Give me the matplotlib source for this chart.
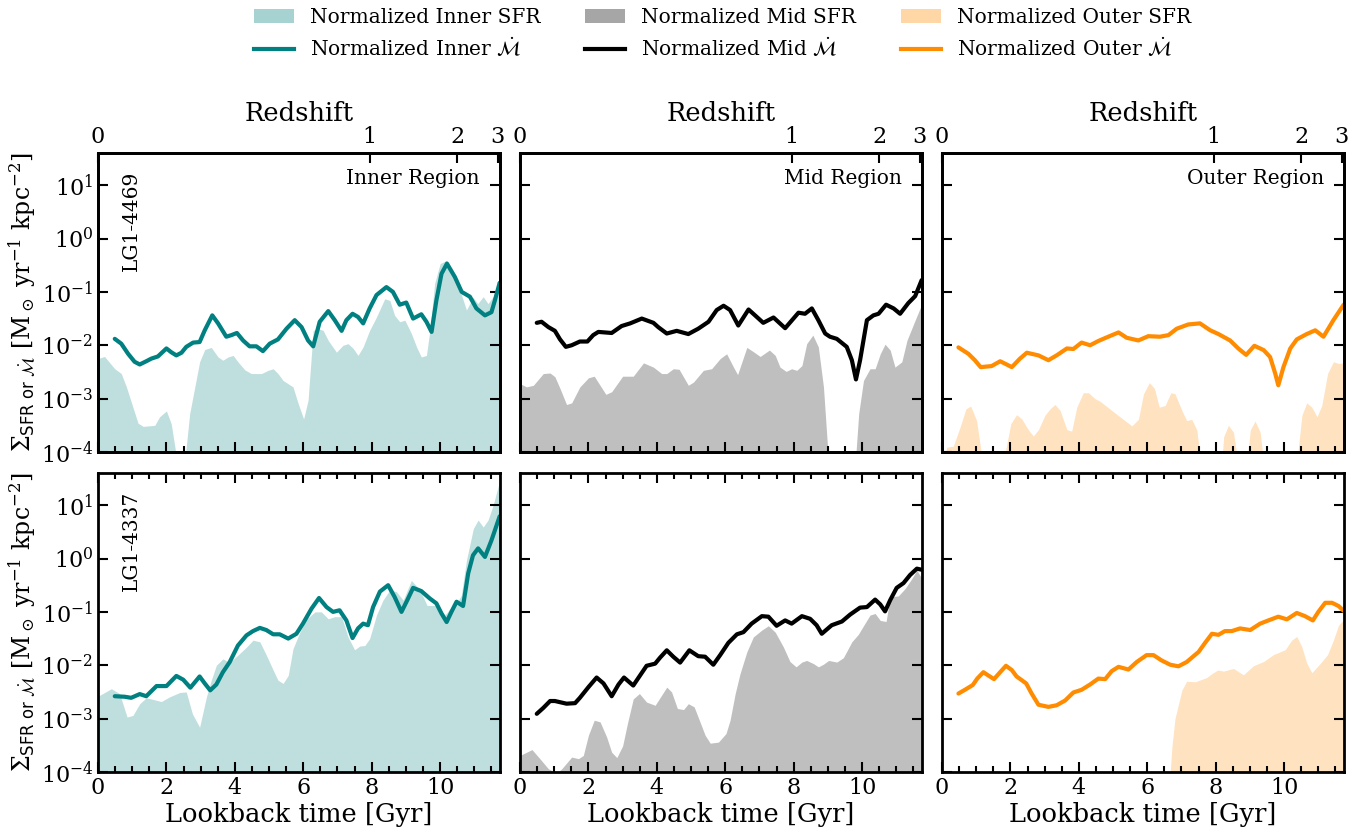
import numpy as np
import matplotlib
matplotlib.use("Agg")
import matplotlib.pyplot as plt
from matplotlib.patches import Patch
from matplotlib.lines import Line2D
from matplotlib.ticker import MultipleLocator, NullLocator, FixedLocator

plt.rcParams['font.family'] = ['DejaVu Serif']
plt.rcParams['mathtext.fontset'] = 'dejavuserif'

# ---------------- data (log10 values) ----------------
galaxies = ['LG1-4469', 'LG1-4337']
regions = ['Inner', 'Mid', 'Outer']
redshift_labels = ['0', '1', '2', '3']
redshift_tick_times = [0.0, 7.94, 10.50, 11.68]

# Top row: LG1-4469
g1_inner_sfr_t = [0, 0.19, 0.49, 0.68, 0.83, 1.02, 1.17, 1.32, 1.66, 1.8, 2.0, 2.14, 2.32, 2.53, 2.68, 2.83, 2.97, 3.12, 3.31, 3.51, 3.65, 3.8, 3.95, 4.09, 4.29, 4.48, 4.78, 4.97, 5.12, 5.26, 5.41, 5.7, 5.85, 6.01, 6.14, 6.29, 6.43, 6.58, 6.73, 6.97, 7.16, 7.31, 7.46, 7.6, 7.75, 7.94, 8.14, 8.38, 8.53, 8.67, 8.82, 8.97, 9.16, 9.31, 9.45, 9.6, 9.7, 9.84, 10.0, 10.19, 10.39, 10.58, 10.77, 10.96, 11.1, 11.26, 11.4, 11.55, 11.75]
g1_inner_sfr_y = [-2.25, -2.21, -2.44, -2.53, -2.78, -3.16, -3.46, -3.52, -3.5, -3.34, -3.23, -3.47, -4.2, -4.2, -3.28, -2.78, -2.31, -2.08, -2.04, -2.22, -2.28, -2.22, -2.19, -2.31, -2.46, -2.53, -2.53, -2.47, -2.44, -2.53, -2.66, -2.78, -3.09, -3.38, -3.03, -1.72, -1.69, -1.72, -1.91, -2.13, -2.0, -1.97, -2.06, -2.19, -2.03, -1.72, -1.47, -1.13, -1.16, -1.44, -1.56, -1.53, -1.78, -2.03, -2.22, -2.19, -1.72, -0.84, -0.47, -0.41, -0.66, -0.97, -1.34, -1.1, -1.22, -1.09, -1.22, -1.09, -1.0]
g1_inner_mdot_t = [0.49, 0.68, 0.88, 1.07, 1.22, 1.41, 1.56, 1.75, 2.0, 2.14, 2.29, 2.44, 2.58, 2.78, 2.97, 3.12, 3.34, 3.51, 3.75, 3.9, 4.06, 4.24, 4.43, 4.63, 4.82, 5.02, 5.26, 5.51, 5.75, 5.95, 6.14, 6.29, 6.48, 6.73, 6.92, 7.12, 7.26, 7.44, 7.6, 7.75, 7.94, 8.14, 8.43, 8.62, 8.82, 9.01, 9.21, 9.45, 9.6, 9.75, 9.89, 10.04, 10.2, 10.43, 10.63, 10.87, 11.06, 11.31, 11.5, 11.6, 11.74]
g1_inner_mdot_y = [-1.88, -1.97, -2.16, -2.31, -2.36, -2.3, -2.25, -2.21, -2.06, -2.13, -2.19, -2.14, -2.03, -1.95, -1.94, -1.72, -1.44, -1.59, -1.84, -1.81, -1.77, -1.91, -2.02, -2.02, -2.11, -1.97, -1.89, -1.69, -1.53, -1.66, -1.91, -2.02, -1.56, -1.36, -1.53, -1.73, -1.53, -1.41, -1.47, -1.59, -1.31, -1.06, -0.91, -1.0, -1.24, -1.2, -1.5, -1.42, -1.56, -1.75, -1.16, -0.66, -0.47, -0.72, -1.0, -1.09, -1.31, -1.44, -1.38, -1.16, -0.83]

g1_mid_sfr_t = [0.0, 0.19, 0.39, 0.68, 0.88, 1.02, 1.17, 1.36, 1.51, 1.75, 2.0, 2.17, 2.34, 2.51, 2.68, 3.0, 3.31, 3.61, 3.9, 4.14, 4.29, 4.48, 4.65, 4.92, 5.07, 5.36, 5.6, 5.85, 6.04, 6.24, 6.36, 6.63, 6.82, 7.02, 7.29, 7.46, 7.6, 7.78, 7.94, 8.09, 8.24, 8.38, 8.56, 8.72, 8.87, 9.02, 9.8, 9.9, 10.04, 10.23, 10.38, 10.53, 10.67, 10.82, 10.96, 11.16, 11.31, 11.55, 11.75]
g1_mid_sfr_y = [-2.72, -2.78, -2.75, -2.53, -2.52, -2.59, -2.81, -3.11, -3.08, -2.78, -2.61, -2.58, -2.75, -2.92, -2.87, -2.58, -2.58, -2.33, -2.41, -2.53, -2.53, -2.44, -2.45, -2.75, -2.69, -2.47, -2.44, -2.25, -2.16, -2.41, -2.55, -2.04, -2.12, -2.21, -2.09, -2.19, -2.41, -2.49, -2.44, -2.47, -2.38, -1.97, -1.81, -2.03, -2.78, -4.2, -4.2, -3.28, -2.66, -2.44, -2.44, -2.16, -1.98, -2.09, -2.41, -2.31, -1.91, -1.53, -1.22]
g1_mid_mdot_t = [0.49, 0.63, 0.83, 1.02, 1.17, 1.34, 1.51, 1.75, 1.97, 2.14, 2.29, 2.68, 2.97, 3.22, 3.56, 3.9, 4.04, 4.29, 4.58, 4.92, 5.21, 5.51, 5.75, 5.95, 6.14, 6.38, 6.68, 6.87, 7.11, 7.41, 7.75, 8.14, 8.33, 8.53, 8.72, 8.92, 9.06, 9.26, 9.55, 9.7, 9.82, 9.94, 10.14, 10.33, 10.48, 10.7, 10.92, 11.11, 11.35, 11.55, 11.74]
g1_mid_mdot_y = [-1.58, -1.56, -1.66, -1.73, -1.89, -2.03, -2.0, -1.93, -1.93, -1.81, -1.75, -1.77, -1.64, -1.59, -1.5, -1.58, -1.66, -1.78, -1.73, -1.79, -1.69, -1.56, -1.34, -1.26, -1.34, -1.63, -1.33, -1.44, -1.58, -1.48, -1.68, -1.39, -1.41, -1.31, -1.53, -1.78, -1.84, -1.88, -2.03, -2.28, -2.64, -2.28, -1.53, -1.44, -1.41, -1.24, -1.31, -1.41, -1.21, -1.08, -0.78]

g1_outer_sfr_t = [0.04, 0.14, 0.33, 0.53, 0.7, 0.84, 1.01, 1.19, 1.79, 2.01, 2.18, 2.33, 2.53, 2.67, 2.82, 3.01, 3.16, 3.3, 3.45, 3.65, 3.79, 3.94, 4.13, 4.28, 4.47, 4.62, 5.2, 5.55, 5.74, 5.89, 6.06, 6.21, 6.35, 6.52, 6.69, 6.81, 7.01, 7.15, 7.3, 7.45, 7.56, 8.18, 8.23, 8.37, 8.52, 8.65, 8.91, 9.01, 9.15, 9.3, 9.4, 10.37, 10.52, 10.66, 10.81, 10.96, 11.1, 11.27, 11.44, 11.59, 11.75]
g1_outer_sfr_y = [-4.2, -3.91, -3.89, -3.53, -3.19, -3.14, -3.41, -4.2, -4.2, -3.47, -3.3, -3.38, -3.59, -3.7, -3.58, -3.31, -3.19, -3.11, -3.22, -3.58, -3.61, -3.16, -2.89, -2.89, -3.0, -3.05, -3.34, -3.51, -3.39, -2.91, -2.7, -2.81, -3.16, -3.13, -2.89, -2.91, -3.22, -3.41, -3.39, -3.59, -4.2, -4.2, -3.72, -3.5, -3.63, -4.2, -4.2, -3.59, -3.42, -3.63, -4.2, -4.2, -3.31, -3.08, -3.16, -3.34, -3.13, -2.53, -2.31, -2.34, -2.33]
g1_outer_mdot_t = [0.48, 0.77, 0.96, 1.13, 1.45, 1.7, 1.89, 2.04, 2.28, 2.48, 2.82, 3.11, 3.35, 3.65, 3.84, 4.08, 4.33, 4.57, 4.86, 5.16, 5.4, 5.74, 6.03, 6.37, 6.62, 6.86, 7.2, 7.54, 7.84, 8.08, 8.42, 8.66, 8.89, 9.13, 9.4, 9.59, 9.74, 9.83, 9.98, 10.18, 10.37, 10.66, 10.91, 11.15, 11.44, 11.74]
g1_outer_mdot_y = [-2.04, -2.16, -2.28, -2.41, -2.39, -2.3, -2.36, -2.41, -2.25, -2.14, -2.19, -2.28, -2.19, -2.06, -2.07, -1.95, -2.0, -1.92, -1.84, -1.76, -1.86, -1.91, -1.83, -1.84, -1.81, -1.69, -1.61, -1.59, -1.72, -1.79, -1.91, -2.06, -2.18, -2.01, -2.09, -2.22, -2.53, -2.75, -2.41, -2.06, -1.89, -1.79, -1.72, -1.84, -1.53, -1.24]

# Bottom row: LG1-4337
g2_inner_sfr_t = [0.0, 0.39, 0.63, 0.85, 1.02, 1.22, 1.41, 1.61, 1.85, 2.1, 2.39, 2.58, 2.76, 2.97, 3.17, 3.31, 3.46, 3.65, 3.85, 4.09, 4.34, 4.53, 4.73, 4.92, 5.12, 5.26, 5.41, 5.56, 5.7, 5.9, 6.09, 6.34, 6.53, 6.73, 6.92, 7.12, 7.31, 7.5, 7.65, 7.8, 7.94, 8.14, 8.33, 8.53, 8.72, 8.92, 9.16, 9.41, 9.62, 9.89, 10.14, 10.33, 10.48, 10.62, 10.77, 10.97, 11.11, 11.26, 11.4, 11.55, 11.75]
g2_inner_sfr_y = [-2.58, -2.44, -2.53, -2.97, -2.94, -2.72, -2.61, -2.64, -2.68, -2.59, -2.51, -2.5, -2.91, -3.16, -2.59, -2.28, -2.0, -1.88, -1.95, -1.81, -1.66, -1.53, -1.56, -1.81, -2.09, -2.28, -2.34, -2.19, -1.69, -1.38, -1.14, -1.0, -1.0, -1.13, -1.09, -1.09, -1.47, -1.71, -1.64, -1.63, -1.5, -1.06, -0.78, -0.59, -0.62, -0.78, -0.41, -0.59, -0.88, -0.88, -1.06, -0.91, -0.84, -0.69, -0.03, 0.56, 0.72, 0.59, 0.72, 1.0, 1.48]
g2_inner_mdot_t = [0.49, 0.78, 0.97, 1.22, 1.41, 1.71, 2.0, 2.29, 2.49, 2.7, 2.97, 3.12, 3.28, 3.46, 3.65, 3.85, 4.09, 4.34, 4.53, 4.73, 4.92, 5.12, 5.31, 5.56, 5.8, 5.99, 6.24, 6.46, 6.68, 6.87, 7.06, 7.26, 7.44, 7.6, 7.75, 7.89, 8.04, 8.24, 8.48, 8.67, 8.87, 9.04, 9.21, 9.45, 9.7, 9.89, 10.04, 10.19, 10.33, 10.48, 10.67, 10.82, 10.96, 11.11, 11.31, 11.5, 11.74]
g2_inner_mdot_y = [-2.58, -2.59, -2.61, -2.54, -2.58, -2.39, -2.39, -2.2, -2.27, -2.42, -2.21, -2.34, -2.47, -2.36, -2.13, -1.94, -1.63, -1.44, -1.36, -1.3, -1.34, -1.42, -1.42, -1.5, -1.41, -1.22, -0.94, -0.74, -0.91, -1.0, -0.97, -1.16, -1.49, -1.31, -1.22, -1.25, -0.91, -0.62, -0.5, -0.72, -1.0, -0.78, -0.55, -0.61, -0.75, -0.84, -1.03, -1.19, -1.0, -0.81, -0.89, -0.28, 0.06, 0.19, 0.03, 0.34, 0.79]

g2_mid_sfr_t = [0.0, 0.35, 0.58, 0.83, 1.07, 1.22, 1.51, 1.71, 1.85, 2.0, 2.17, 2.34, 2.53, 2.68, 2.83, 3.0, 3.14, 3.31, 3.49, 3.7, 3.95, 4.29, 4.43, 4.6, 4.78, 4.92, 5.09, 5.26, 5.41, 5.56, 5.8, 6.02, 6.14, 6.29, 6.43, 6.63, 6.82, 7.07, 7.26, 7.46, 7.7, 7.89, 8.07, 8.24, 8.38, 8.58, 8.72, 8.87, 9.02, 9.26, 9.45, 9.7, 9.89, 10.04, 10.23, 10.38, 10.53, 10.7, 10.82, 11.06, 11.26, 11.45, 11.6, 11.75]
g2_mid_sfr_y = [-3.69, -3.58, -3.75, -3.94, -4.02, -3.94, -3.72, -3.75, -3.69, -3.31, -3.03, -3.06, -3.34, -3.63, -3.73, -3.51, -3.09, -2.63, -2.53, -2.69, -2.75, -2.41, -2.5, -2.81, -2.83, -2.72, -2.78, -3.06, -3.31, -3.46, -3.44, -3.28, -3.03, -2.53, -2.16, -1.75, -1.47, -1.34, -1.26, -1.38, -1.66, -1.93, -2.03, -1.94, -1.91, -1.97, -2.03, -1.98, -1.91, -1.94, -1.86, -1.56, -1.42, -1.26, -1.06, -1.03, -1.16, -1.18, -0.72, -0.7, -0.56, -0.38, -0.22, -0.38]
g2_mid_mdot_t = [0.49, 0.68, 0.88, 1.02, 1.36, 1.61, 1.75, 2.0, 2.24, 2.44, 2.68, 2.88, 3.04, 3.31, 3.51, 3.7, 3.95, 4.09, 4.29, 4.48, 4.68, 4.95, 5.21, 5.41, 5.65, 5.85, 6.09, 6.34, 6.53, 6.77, 7.07, 7.26, 7.5, 7.75, 7.94, 8.24, 8.48, 8.67, 8.82, 9.11, 9.41, 9.65, 9.94, 10.14, 10.38, 10.53, 10.67, 10.82, 11.01, 11.21, 11.4, 11.6, 11.74]
g2_mid_mdot_y = [-2.91, -2.8, -2.67, -2.67, -2.72, -2.71, -2.61, -2.41, -2.23, -2.34, -2.58, -2.36, -2.23, -2.38, -2.19, -2.01, -1.97, -1.86, -1.72, -1.84, -1.95, -1.72, -1.83, -1.84, -1.99, -1.81, -1.58, -1.42, -1.38, -1.22, -1.08, -1.09, -1.26, -1.16, -1.22, -1.08, -1.13, -1.25, -1.41, -1.25, -1.18, -1.05, -0.92, -0.91, -0.77, -0.86, -0.99, -0.78, -0.55, -0.46, -0.31, -0.19, -0.21]

g2_outer_sfr_t = [6.65, 6.72, 6.81, 7.01, 7.15, 7.4, 7.74, 7.88, 8.06, 8.23, 8.52, 8.81, 9.1, 9.4, 9.69, 10.03, 10.22, 10.37, 10.52, 10.66, 10.81, 11.05, 11.27, 11.44, 11.59, 11.75]
g2_outer_sfr_y = [-4.2, -3.53, -3.0, -2.47, -2.3, -2.31, -2.23, -2.16, -2.09, -2.11, -2.06, -2.18, -2.01, -1.93, -1.8, -1.71, -1.53, -1.46, -1.66, -1.96, -2.14, -1.97, -1.8, -1.53, -1.25, -1.14]
g2_outer_mdot_t = [0.48, 0.67, 0.9, 1.03, 1.21, 1.35, 1.52, 1.7, 1.87, 2.04, 2.18, 2.46, 2.62, 2.82, 3.11, 3.35, 3.6, 3.84, 4.08, 4.33, 4.57, 4.77, 4.96, 5.16, 5.45, 5.69, 5.98, 6.18, 6.42, 6.67, 6.91, 7.15, 7.5, 7.69, 7.89, 8.08, 8.27, 8.47, 8.71, 9.01, 9.3, 9.54, 9.83, 10.08, 10.37, 10.61, 10.84, 11.0, 11.2, 11.4, 11.59, 11.74]
g2_outer_mdot_y = [-2.53, -2.46, -2.37, -2.25, -2.13, -2.19, -2.26, -2.13, -2.01, -2.09, -2.21, -2.34, -2.53, -2.74, -2.78, -2.75, -2.66, -2.51, -2.46, -2.36, -2.25, -2.26, -2.11, -2.03, -2.08, -1.94, -1.81, -1.81, -1.91, -1.99, -2.02, -1.94, -1.75, -1.58, -1.41, -1.43, -1.36, -1.36, -1.31, -1.34, -1.22, -1.16, -1.09, -1.14, -1.02, -1.08, -1.16, -1.0, -0.83, -0.83, -0.89, -0.98]

sfr_data = [
    [(g1_inner_sfr_t, g1_inner_sfr_y), (g1_mid_sfr_t, g1_mid_sfr_y), (g1_outer_sfr_t, g1_outer_sfr_y)],
    [(g2_inner_sfr_t, g2_inner_sfr_y), (g2_mid_sfr_t, g2_mid_sfr_y), (g2_outer_sfr_t, g2_outer_sfr_y)],
]
mdot_data = [
    [(g1_inner_mdot_t, g1_inner_mdot_y), (g1_mid_mdot_t, g1_mid_mdot_y), (g1_outer_mdot_t, g1_outer_mdot_y)],
    [(g2_inner_mdot_t, g2_inner_mdot_y), (g2_mid_mdot_t, g2_mid_mdot_y), (g2_outer_mdot_t, g2_outer_mdot_y)],
]
colors = ['teal', 'black', 'darkorange']

# ---------------- figure ----------------
W, H = 1371, 838
fig = plt.figure(figsize=(W / 100, H / 100), dpi=100)
col_left = [98, 520, 942]
col_w = 402
row_top = [153, 473]
row_h = 299

XMAX = 11.75
YMIN, YMAX = 1e-4, 40

axes = []
for r in range(2):
    row_axes = []
    for c in range(3):
        ax = fig.add_axes([col_left[c] / W, 1 - (row_top[r] + row_h) / H, col_w / W, row_h / H])
        st, sy = sfr_data[r][c]
        st = np.asarray(st); sv = 10 ** np.asarray(sy)
        ax.fill_between(st, YMIN * 1e-3, sv, color=colors[c], alpha=0.25, lw=0)
        mt, my = mdot_data[r][c]
        ax.plot(mt, 10 ** np.asarray(my), color=colors[c], lw=3, solid_joinstyle='round', solid_capstyle='round')
        ax.set_yscale('log')
        ax.set_xlim(0, XMAX)
        ax.set_ylim(YMIN, YMAX)
        ax.yaxis.set_major_locator(FixedLocator([1e-4, 1e-3, 1e-2, 1e-1, 1e0, 1e1]))
        ax.yaxis.set_minor_locator(NullLocator())
        ax.xaxis.set_major_locator(MultipleLocator(2))
        ax.xaxis.set_minor_locator(MultipleLocator(0.5))
        for sp in ax.spines.values():
            sp.set_linewidth(2)
        ax.tick_params(which='both', direction='in', right=True, top=(r == 1), labelsize=16, width=1.5)
        ax.tick_params(which='major', length=7)
        ax.tick_params(which='minor', length=4)
        if c > 0:
            ax.set_yticklabels([])
        else:
            ax.set_ylabel(r'$\Sigma_{\mathsf{SFR\ or}\ \dot{\mathcal{M}}}$ [M$_\odot$ yr$^{-1}$ kpc$^{-2}$]', fontsize=17, labelpad=2)
            ax.text(0.082, 0.94, galaxies[r], transform=ax.transAxes, rotation=90, ha='center', va='top', fontsize=14.5)
        if r == 0:
            ax.set_xticklabels([])
            ax.text(0.95, 0.915, f'{regions[c]} Region', transform=ax.transAxes, ha='right', va='center', fontsize=14.5)
            tw = ax.twiny()
            tw.set_xlim(0, XMAX)
            tw.set_xticks(redshift_tick_times)
            tw.set_xticklabels(redshift_labels)
            tw.xaxis.set_minor_locator(NullLocator())
            tw.tick_params(direction='in', labelsize=16, length=7, width=1.5)
            tw.set_xlabel('Redshift', fontsize=18.5, labelpad=4)
            for sp in tw.spines.values():
                sp.set_linewidth(2)
        else:
            ax.set_xlabel('Lookback time [Gyr]', fontsize=18.5, labelpad=2)
        row_axes.append(ax)
    axes.append(row_axes)

handles = []
labels = []
for c, reg in enumerate(regions):
    handles.append(Patch(facecolor=colors[c], alpha=0.35, edgecolor='none'))
    labels.append(f'Normalized {reg} SFR')
    handles.append(Line2D([], [], color=colors[c], lw=3))
    labels.append(f'Normalized {reg} ' + r'$\dot{\mathcal{M}}$')
fig.legend(handles, labels, ncol=3, loc='upper center', bbox_to_anchor=(0.527, 1.012), frameon=False,
           fontsize=14.5, handlelength=2.0, columnspacing=2.2, labelspacing=0.45)

fig.savefig('out.png', dpi=100)
